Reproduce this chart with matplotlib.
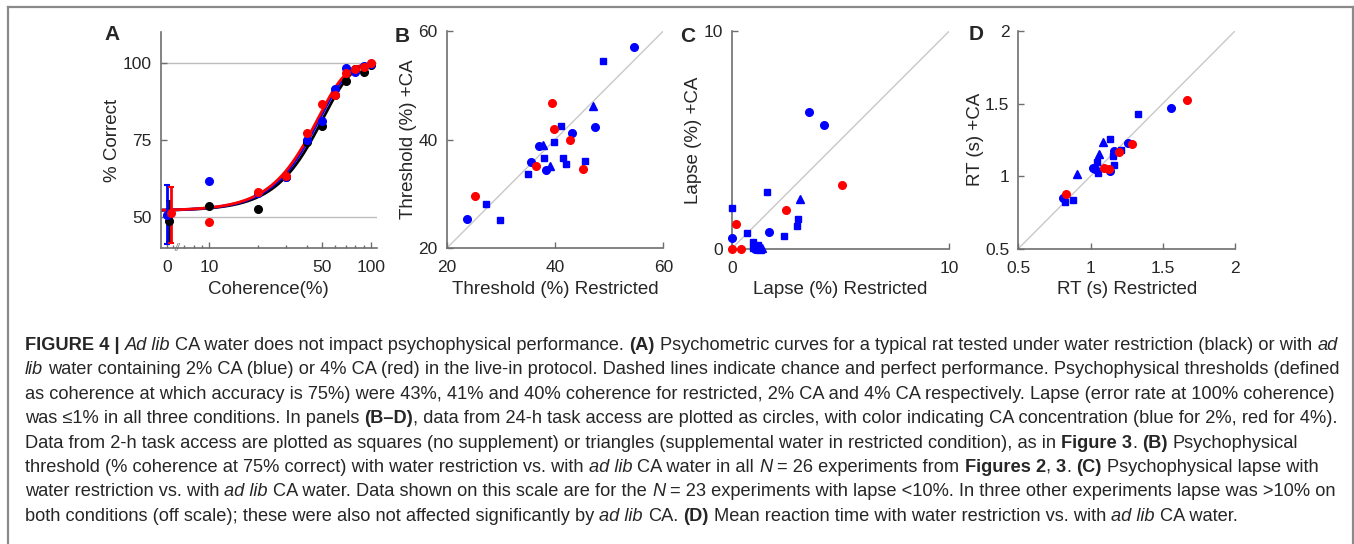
import matplotlib.pyplot as plt
from matplotlib.lines import Line2D
import numpy as np

W, H = 1354, 544
plt.rcParams['font.family'] = ['Liberation Sans', 'DejaVu Sans']
plt.rcParams['xtick.direction'] = 'in'
plt.rcParams['ytick.direction'] = 'in'

# ---- panel A: psychometric data (% correct) ----
coherence = [0, 10, 20, 30, 40, 50, 60, 70, 80, 90, 100]
pc_restricted = [48.6, 53.5, 52.5, 63.0, 74.2, 79.4, 89.5, 94.1, 97.9, 96.8, 99.3]
pc_ca2 = [50.6, 61.6, 57.8, 63.0, 74.9, 80.9, 91.4, 98.2, 97.1, 99.0, 99.5]
pc_ca4 = [51.1, 48.2, 58.1, 63.3, 77.1, 86.6, 89.5, 96.6, 97.9, 98.4, 100.0]
ci0_restricted = [42.0, 55.0]
ci0_ca2 = [41.1, 60.3]
ci0_ca4 = [41.5, 59.8]
# fitted Weibull parameters (thresholds from caption)
thresholds = [43, 41, 40]
fit_slope = 2.5
fit_floor = 0.52
fit_lapse = 0.005

# ---- panel B: thresholds (restricted, +CA) ----
thr_circ_blue_x = [23.8, 35.5, 37.0, 38.3, 43.1, 47.4, 54.5]
thr_circ_blue_y = [25.4, 35.8, 38.8, 34.5, 41.2, 42.3, 57.0]
thr_sq_x = [27.2, 29.8, 35.1, 38.0, 39.9, 41.2, 41.5, 42.0, 45.5, 48.9]
thr_sq_y = [28.1, 25.2, 33.7, 36.6, 39.6, 42.5, 36.6, 35.5, 36.0, 54.5]
thr_tri_x = [37.7, 39.1, 47.1]
thr_tri_y = [39.1, 35.2, 46.2]
thr_red_x = [25.3, 36.4, 39.4, 39.9, 42.8, 45.2]
thr_red_y = [29.6, 35.2, 46.8, 42.0, 40.0, 34.6]

# ---- panel C: lapse ----
lapse_circ_blue_x = [0.0, 1.73, 3.57, 4.26, 1.07]
lapse_circ_blue_y = [0.47, 0.77, 6.29, 5.68, 0.0]
lapse_sq_x = [0.0, 0.69, 1.64, 2.39, 3.03, 2.99, 0.96, 1.23, 1.12, 0.98]
lapse_sq_y = [1.88, 0.70, 2.59, 0.60, 1.36, 1.04, 0.29, 0.15, 0.03, 0.05]
lapse_tri_x = [3.14, 1.39, 1.30]
lapse_tri_y = [2.27, 0.03, 0.0]
lapse_red_x = [0.0, 0.41, 0.21, 2.48, 5.07]
lapse_red_y = [0.0, 0.0, 1.12, 1.78, 2.94]

# ---- panel D: reaction time (s) ----
rt_circ_blue_x = [0.81, 1.02, 1.028, 1.135, 1.16, 1.26, 1.56]
rt_circ_blue_y = [0.847, 1.058, 1.051, 1.035, 1.173, 1.23, 1.47]
rt_sq_x = [0.823, 0.876, 1.042, 1.049, 1.135, 1.158, 1.162, 1.21, 1.33, 1.169]
rt_sq_y = [0.824, 0.833, 1.10, 1.024, 1.253, 1.139, 1.077, 1.18, 1.43, 1.168]
rt_tri_x = [0.908, 1.056, 1.088]
rt_tri_y = [1.012, 1.15, 1.237]
rt_red_x = [0.828, 1.095, 1.125, 1.195, 1.29, 1.67]
rt_red_y = [0.874, 1.058, 1.051, 1.168, 1.219, 1.525]

BLUE, RED, BLACK = '#0000ff', '#ff0000', '#000000'
SPINE = '#6e6e6e'
TXT = '#262626'

fig = plt.figure(figsize=(W / 100, H / 100), dpi=100)


def box(l, t, r, b):
    return [l / W, 1 - b / H, (r - l) / W, (b - t) / H]


def style(ax):
    for s in ['top', 'right']:
        ax.spines[s].set_visible(False)
    for s in ['left', 'bottom']:
        ax.spines[s].set_color(SPINE)
        ax.spines[s].set_linewidth(1.2)
    ax.tick_params(which='both', colors=SPINE, labelcolor=TXT, labelsize=12.5,
                   length=4, width=1)
    ax.tick_params(axis='x', which='major', pad=8.5)
    ax.tick_params(axis='y', which='major', pad=6.5)
    ax.tick_params(which='minor', length=2.5)


# ---------------- Panel A ----------------
axA = fig.add_axes(box(160.7, 31.7, 377, 248.3))
style(axA)
axA.set_xscale('log')
axA.set_xlim(5.0, 109)
axA.set_ylim(39.8, 110)
zero_pos = 5.5
axA.axhline(50, color='#bdbdbd', lw=1, zorder=0)
axA.axhline(100, color='#bdbdbd', lw=1, zorder=0)

cc = np.geomspace(5.0, 100, 300)
for T, col in zip(thresholds, [BLACK, BLUE, RED]):
    k = -np.log(1 - (0.75 - fit_floor) / (1 - fit_floor - fit_lapse))
    alpha = T / k ** (1 / fit_slope)
    p = fit_floor + (1 - fit_floor - fit_lapse) * (1 - np.exp(-(cc / alpha) ** fit_slope))
    axA.plot(cc, 100 * p, color=col, lw=2, zorder=2)

for pc, ci, col, off in [(pc_restricted, ci0_restricted, BLACK, 1.02),
                         (pc_ca2, ci0_ca2, BLUE, 0.995),
                         (pc_ca4, ci0_ca4, RED, 1.055)]:
    xs = [zero_pos * off if c == 0 else c for c in coherence]
    axA.errorbar([xs[0]], [pc[0]], yerr=[[pc[0] - ci[0]], [ci[1] - pc[0]]],
                 color=col, lw=2, capsize=2.5, capthick=1.5, zorder=3)
    axA.plot(xs, pc, 'o', color=col, ms=5.5, zorder=4)

axA.set_xticks([zero_pos, 10, 50, 100])
axA.set_xticklabels(['0', '10', '50', '100'])
axA.set_xticks([6, 7, 8, 9, 20, 30, 40, 60, 70, 80, 90], minor=True)
axA.xaxis.set_minor_formatter(plt.NullFormatter())
axA.set_yticks([50, 75, 100])
axA.text(6.3, 39.8, '//', fontsize=7, color=SPINE, ha='center', va='center',
         fontstyle='italic', zorder=5)
axA.set_xlabel('Coherence(%)', fontsize=13.5, color=TXT, labelpad=4)
axA.set_ylabel('% Correct', fontsize=13.5, color=TXT, labelpad=1)


# ---------------- scatter panels ----------------
def scatter_panel(rect, lim, ticks, data, xlabel, ylabel):
    ax = fig.add_axes(box(*rect))
    style(ax)
    ax.set_xlim(lim)
    ax.set_ylim(lim)
    ax.plot(lim, lim, color='#c8c8c8', lw=1, zorder=1)
    (cbx, cby), (sqx, sqy), (trx, try_), (rx, ry) = data
    ax.plot(sqx, sqy, 's', color=BLUE, ms=4.2, zorder=3, clip_on=False)
    ax.plot(trx, try_, '^', color=BLUE, ms=5.2, zorder=3, clip_on=False)
    ax.plot(cbx, cby, 'o', color=BLUE, ms=5.5, zorder=3, clip_on=False)
    ax.plot(rx, ry, 'o', color=RED, ms=5.5, zorder=4, clip_on=False)
    ax.set_xticks(ticks)
    ax.set_yticks(ticks)
    ax.set_xticklabels([f'{t:g}' for t in ticks])
    ax.set_yticklabels([f'{t:g}' for t in ticks])
    ax.set_xlabel(xlabel, fontsize=13.5, color=TXT, labelpad=4)
    ax.set_ylabel(ylabel, fontsize=13.5, color=TXT, labelpad=1)
    return ax


scatter_panel((446.7, 31, 663.3, 248.3), (20, 60), [20, 40, 60],
              [(thr_circ_blue_x, thr_circ_blue_y), (thr_sq_x, thr_sq_y),
               (thr_tri_x, thr_tri_y), (thr_red_x, thr_red_y)],
              'Threshold (%) Restricted', 'Threshold (%) +CA')
scatter_panel((731.7, 31, 949.3, 248.7), (0, 10), [0, 10],
              [(lapse_circ_blue_x, lapse_circ_blue_y), (lapse_sq_x, lapse_sq_y),
               (lapse_tri_x, lapse_tri_y), (lapse_red_x, lapse_red_y)],
              'Lapse (%) Restricted', 'Lapse (%) +CA')
scatter_panel((1018.3, 31, 1235, 248.7), (0.5, 2), [0.5, 1, 1.5, 2],
              [(rt_circ_blue_x, rt_circ_blue_y), (rt_sq_x, rt_sq_y),
               (rt_tri_x, rt_tri_y), (rt_red_x, rt_red_y)],
              'RT (s) Restricted', 'RT (s) +CA')

# panel letters
for lab, x, y in [('A', 112, 35), ('B', 402, 36), ('C', 688, 36), ('D', 976, 35)]:
    fig.text(x / W, 1 - y / H, lab, fontsize=15, fontweight='bold', color=TXT,
             ha='center', va='center')

# frame around figure
for xs, ys in [([8, 8], [544, 6.5]), ([8, 1352.5], [6.5, 6.5]), ([1352.5, 1352.5], [6.5, 544])]:
    fig.add_artist(Line2D([x / W for x in xs], [1 - y / H for y in ys],
                          color='#8a8a8a', lw=1.6, transform=fig.transFigure))

# ---------------- caption ----------------
caption = [
    [('FIGURE 4 | ', 'b'), ('Ad lib', 'i'), (' CA water does not impact psychophysical performance. ', 'n'),
     ('(A)', 'b'), (' Psychometric curves for a typical rat tested under water restriction (black) or with ', 'n'),
     ('ad', 'i')],
    [('lib', 'i'), (' water containing 2% CA (blue) or 4% CA (red) in the live-in protocol. Dashed lines indicate '
                    'chance and perfect performance. Psychophysical thresholds (defined', 'n')],
    [('as coherence at which accuracy is 75%) were 43%, 41% and 40% coherence for restricted, 2% CA and 4% CA '
      'respectively. Lapse (error rate at 100% coherence)', 'n')],
    [('was \u22641% in all three conditions. In panels ', 'n'), ('(B\u2013D)', 'b'),
     (', data from 24-h task access are plotted as circles, with color indicating CA concentration '
      '(blue for 2%, red for 4%).', 'n')],
    [('Data from 2-h task access are plotted as squares (no supplement) or triangles (supplemental water in '
      'restricted condition), as in ', 'n'), ('Figure 3', 'b'), ('. ', 'n'), ('(B)', 'b'),
     (' Psychophysical', 'n')],
    [('threshold (% coherence at 75% correct) with water restriction vs. with ', 'n'), ('ad lib', 'i'),
     (' CA water in all ', 'n'), ('N', 'i'), (' = 26 experiments from ', 'n'), ('Figures 2', 'b'),
     (', ', 'n'), ('3', 'b'), ('. ', 'n'), ('(C)', 'b'), (' Psychophysical lapse with', 'n')],
    [('water restriction vs. with ', 'n'), ('ad lib', 'i'),
     (' CA water. Data shown on this scale are for the ', 'n'), ('N', 'i'),
     (' = 23 experiments with lapse <10%. In three other experiments lapse was >10% on', 'n')],
    [('both conditions (off scale); these were also not affected significantly by ', 'n'), ('ad lib', 'i'),
     (' CA. ', 'n'), ('(D)', 'b'), (' Mean reaction time with water restriction vs. with ', 'n'),
     ('ad lib', 'i'), (' CA water.', 'n')],
]

renderer = fig.canvas.get_renderer()
CAP_FS = 13.15


def width_px(s, st):
    t = fig.text(0, 0, s, fontsize=CAP_FS,
                 fontweight='bold' if st == 'b' else 'normal',
                 fontstyle='italic' if st == 'i' else 'normal')
    w = t.get_window_extent(renderer).width
    t.remove()
    return w


space_w = width_px('a a', 'n') - width_px('aa', 'n')

for i, parts in enumerate(caption):
    x = 25.0
    y = 350 + 24.4 * i
    for s, st in parts:
        lead = len(s) - len(s.lstrip(' '))
        trail = len(s) - len(s.rstrip(' '))
        core = s.strip(' ')
        x += lead * space_w
        if core:
            fig.text(x / W, 1 - y / H, core, fontsize=CAP_FS, color=TXT, va='baseline',
                     fontweight='bold' if st == 'b' else 'normal',
                     fontstyle='italic' if st == 'i' else 'normal')
            x += width_px(core, st)
        x += trail * space_w

fig.savefig('out.png', dpi=100)
